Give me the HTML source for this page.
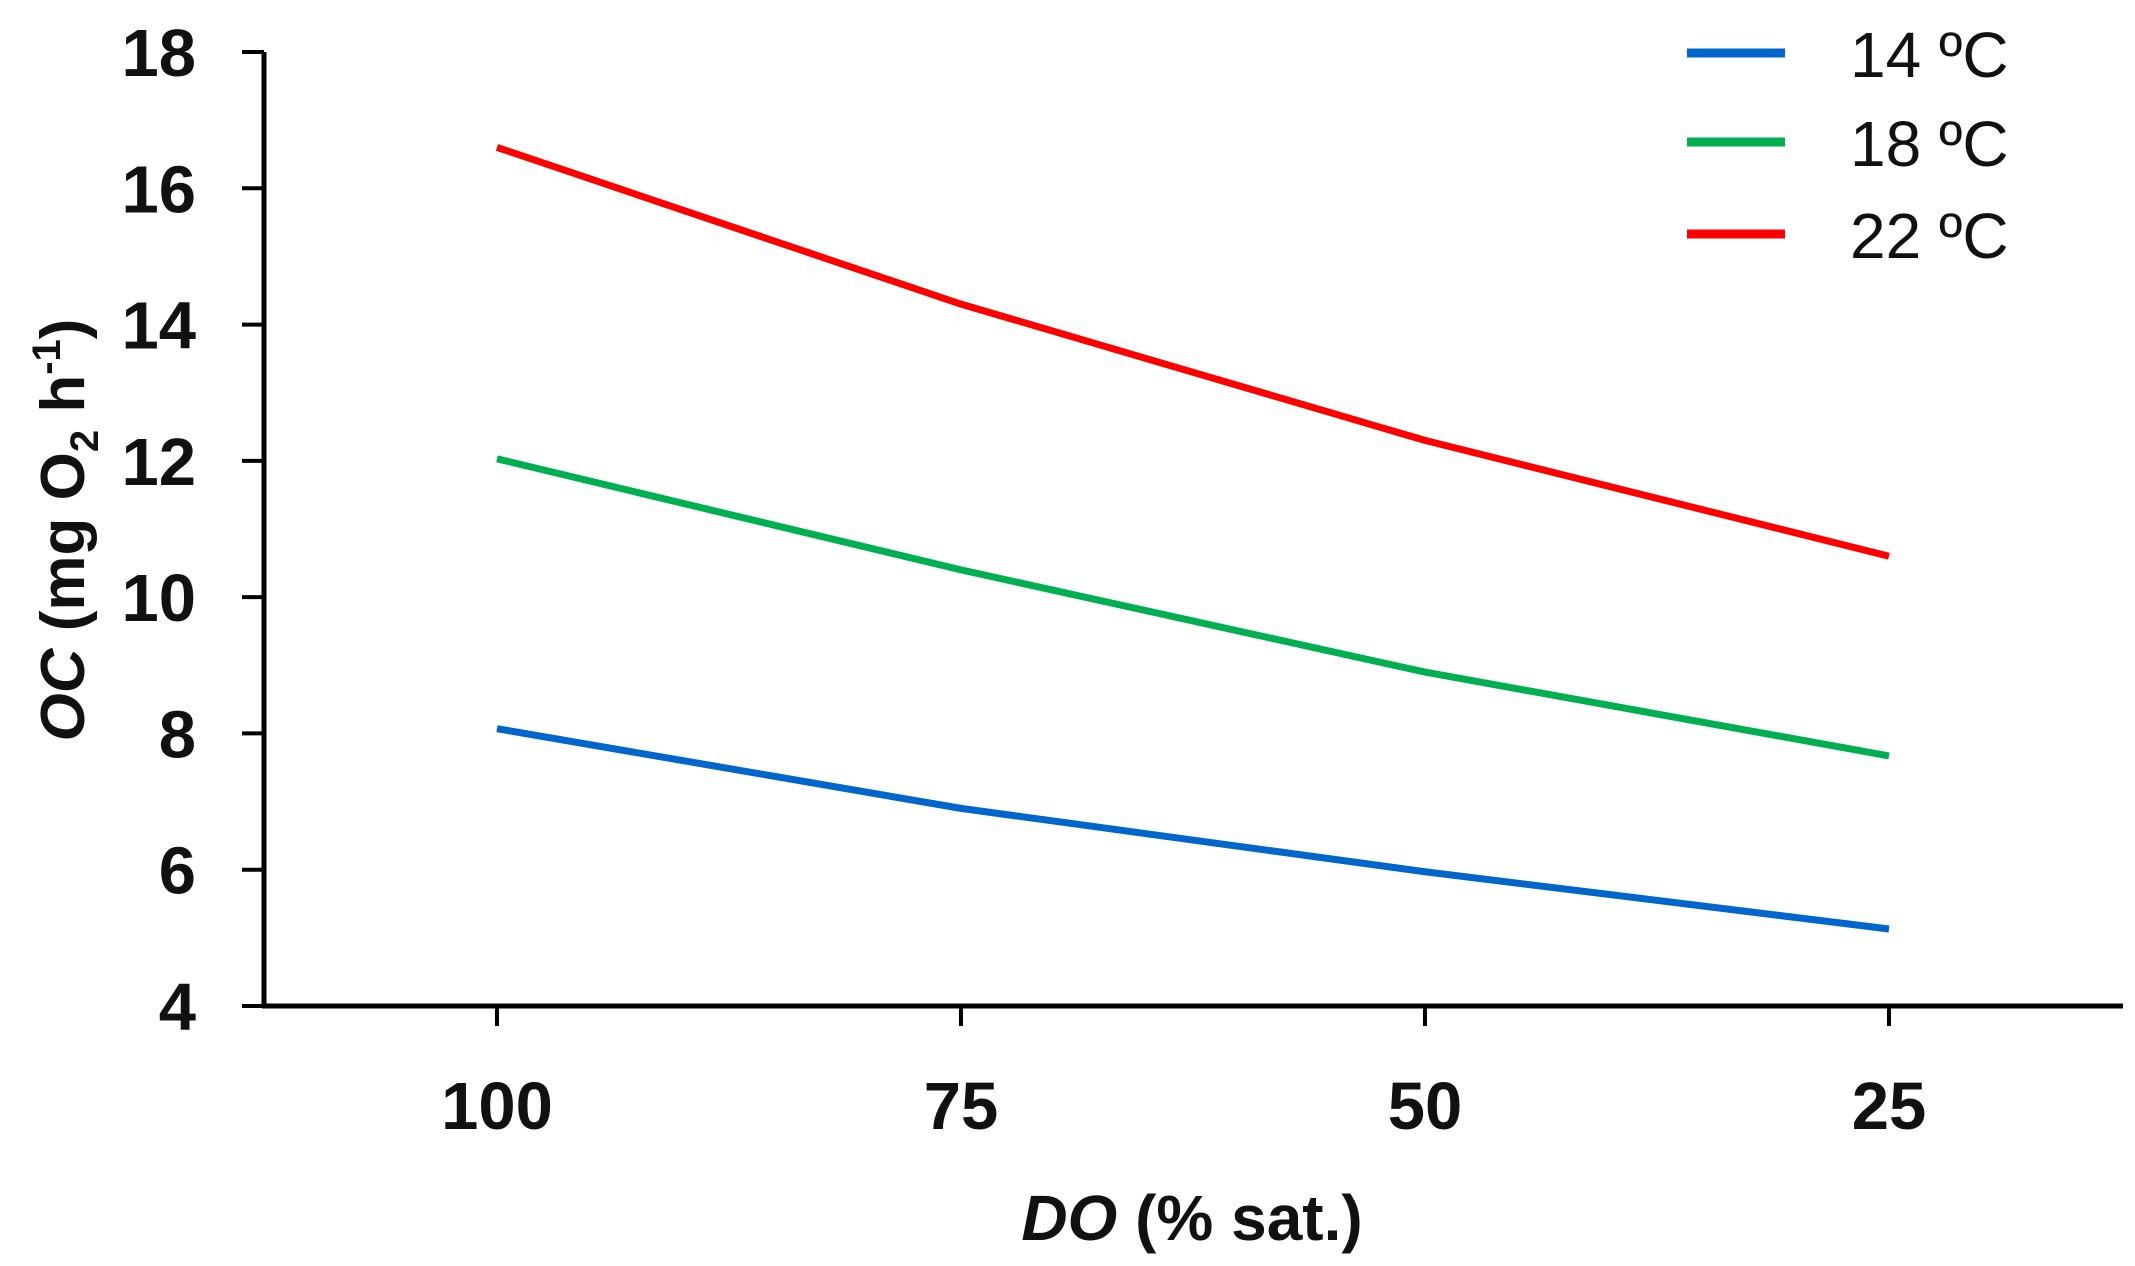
<!DOCTYPE html>
<html><head><meta charset="utf-8"><style>
html,body{margin:0;padding:0;background:#fff}
svg{display:block}
text{font-family:"Liberation Sans",sans-serif;fill:#111}
</style></head><body>
<svg id="chart" width="2135" height="1266" viewBox="0 0 2135 1266" xmlns="http://www.w3.org/2000/svg">
<g id="axes"></g>
<g id="series"></g>
<g id="legend"></g>
<text x="1192" y="1240" text-anchor="middle" font-size="64" font-weight="bold"><tspan font-style="italic">DO</tspan> (% sat.)</text>
<text transform="translate(84,530) rotate(-90)" text-anchor="middle" font-size="62" font-weight="bold"><tspan font-style="italic">OC</tspan> (mg O<tspan font-size="40" dy="14">2</tspan><tspan dy="-14"> h</tspan><tspan font-size="40" dy="-24">-1</tspan><tspan dy="24">)</tspan></text>
</svg>
<script>
const categories = ["100","75","50","25"];
const yTicks = [4,6,8,10,12,14,16,18];
const seriesNames = ["14 ºC","18 ºC","22 ºC"];
const seriesColors = ["#0066cc","#00b050","#ff0000"];
const s14 = [8.07,6.9,5.97,5.13];
const s18 = [12.03,10.4,8.9,7.67];
const s22 = [16.6,14.3,12.3,10.6];
const seriesValues = [s14,s18,s22];

const NS="http://www.w3.org/2000/svg";
const x0=264, xEnd=2123, y0=1006, yTop=52;
const yMin=4, yMax=18;
const yScale=v=>y0-(v-yMin)/(yMax-yMin)*(y0-yTop);
const catFirst=497, catLast=1889;
const xScale=i=>catFirst+i*(catLast-catFirst)/(categories.length-1);
function mk(tag,attrs,parent){const e=document.createElementNS(NS,tag);for(const k in attrs)e.setAttribute(k,attrs[k]);parent.appendChild(e);return e;}
const axes=document.getElementById('axes');
let e=mk('line',{x1:x0,y1:yTop,x2:x0,y2:y0+2,stroke:'#000','stroke-width':5},axes);


e=mk('line',{x1:x0-2,y1:y0,x2:xEnd,y2:y0,stroke:'#000','stroke-width':5},axes);


yTicks.forEach(v=>{
  const y=yScale(v);
  let t=mk('line',{x1:x0-22,y1:y,x2:x0,y2:y,stroke:'#000','stroke-width':4},axes);
  
  
  let l=mk('text',{x:196,y:y+24,'text-anchor':'end','font-size':67,'font-weight':'bold'},axes);
  l.textContent=v;
  
  
});
categories.forEach((c,i)=>{
  const x=xScale(i);
  let t=mk('line',{x1:x,y1:y0,x2:x,y2:y0+20,stroke:'#000','stroke-width':4},axes);
  
  
  let l=mk('text',{x:x,y:1129,'text-anchor':'middle','font-size':67,'font-weight':'bold'},axes);
  l.textContent=c;
  
  
});
const sg=document.getElementById('series');
seriesValues.forEach((vals,si)=>{
  const pts=vals.map((v,i)=>xScale(i)+','+yScale(v)).join(' ');
  let p=mk('polyline',{points:pts,fill:'none',stroke:seriesColors[si],'stroke-width':7,'stroke-linejoin':'round'},sg);
  
  
});
const lg=document.getElementById('legend');
const legY=[53,142,234];
seriesNames.forEach((n,i)=>{
  let l=mk('line',{x1:1687,y1:legY[i],x2:1785,y2:legY[i],stroke:seriesColors[i],'stroke-width':9},lg);
  
  
  let t=mk('text',{x:1850,y:legY[i]+24,'font-size':64},lg);
  t.textContent=n;
  
  
});
</script>
</body></html>
